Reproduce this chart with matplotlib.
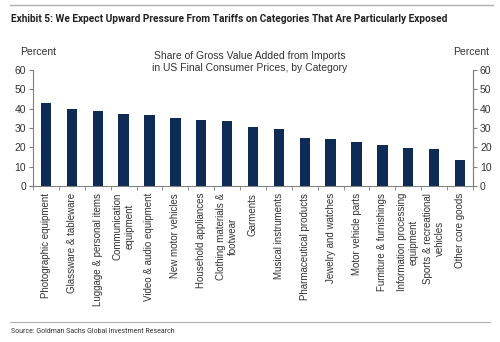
import numpy as np
import matplotlib
matplotlib.use("Agg")
import matplotlib.pyplot as plt
from matplotlib.lines import Line2D

categories = [
    "Photographic equipment",
    "Glassware & tableware",
    "Luggage & personal items",
    "Communication\nequipment",
    "Video & audio equipment",
    "New motor vehicles",
    "Household appliances",
    "Clothing materials &\nfootwear",
    "Garments",
    "Musical instruments",
    "Pharmaceutical products",
    "Jewelry and watches",
    "Motor vehicle parts",
    "Furniture & furnishings",
    "Information processing\nequipment",
    "Sports & recreational\nvehicles",
    "Other core goods",
]
import_share = [42.8, 39.7, 39.0, 37.1, 36.7, 35.3, 34.0, 33.5, 30.6,
                29.3, 24.8, 24.1, 22.9, 21.4, 19.8, 19.0, 13.3]
y_ticks = [0, 10, 20, 30, 40, 50, 60]

title = "Exhibit 5: We Expect Upward Pressure From Tariffs on Categories That Are Particularly Exposed"
chart_title = "Share of Gross Value Added from Imports\nin US Final Consumer Prices, by Category"
source = "Source: Goldman Sachs Global Investment Research"

bar_color = "#0d2b55"
text_color = "#333333"
axis_color = "#808080"
plt.rcParams["font.family"] = ["Liberation Sans", "DejaVu Sans"]
narrow = ["Roboto", "DejaVu Sans"]

fig = plt.figure(figsize=(5.0, 3.42), dpi=100)
ax = fig.add_axes([0.066, 0.456, 0.88, 0.339])

x = np.arange(len(categories))
ax.bar(x, import_share, width=0.4, color=bar_color, zorder=2)

ax.set_xlim(-0.5, len(categories) - 0.5)
ax.set_ylim(0, 60)
ax.set_yticks(y_ticks)
ax.set_xticks(x)
ax.set_xticklabels(categories, rotation=90, fontsize=7, color=text_color,
                   ha="center", va="top", multialignment="center")
ax.set_xticks(np.arange(-0.5, len(categories)), minor=True)
ax.tick_params(axis="x", which="major", length=0, pad=5)
ax.tick_params(axis="x", which="minor", length=3, color=axis_color, direction="out")
ax.tick_params(axis="y", length=3, color=axis_color, labelsize=7.5,
               labelcolor=text_color, pad=2)

ax.spines["top"].set_visible(False)
for side in ["left", "right", "bottom"]:
    ax.spines[side].set_color(axis_color)
    ax.spines[side].set_linewidth(0.8)

# mirrored axis on the right
ax2 = ax.twinx()
ax2.set_ylim(ax.get_ylim())
ax2.set_yticks(y_ticks)
ax2.tick_params(axis="y", length=3, color=axis_color, labelsize=7.5,
                labelcolor=text_color, pad=2)
for side in ["top", "left", "bottom"]:
    ax2.spines[side].set_visible(False)
ax2.spines["right"].set_color(axis_color)
ax2.spines["right"].set_linewidth(0.8)

fig.text(0.04, 0.848, "Percent", fontsize=7.5, color=text_color, va="center")
fig.text(0.906, 0.848, "Percent", fontsize=7.5, color=text_color, va="center")
fig.text(0.50, 0.818, chart_title, fontsize=7.5, color=text_color,
         ha="center", va="center", linespacing=1.2)

t = fig.text(0.022, 0.943, title, family=narrow, fontsize=9, fontweight="bold",
             color="#222222", va="center")
s = fig.text(0.022, 0.030, source, family=narrow, fontsize=6, color=text_color,
             va="center")

# fit header and footer to their widths
fig.canvas.draw()
r = fig.canvas.get_renderer()
for txt, target in [(t, 433), (s, 166)]:
    w = txt.get_window_extent(r).width
    if w > target:
        txt.set_fontsize(txt.get_fontsize() * target / w)

fig.add_artist(Line2D([0.02, 0.985], [0.985, 0.985], color="#b0b0b0", lw=1.0,
                      transform=fig.transFigure))
fig.add_artist(Line2D([0.02, 0.98], [0.058, 0.058], color="#b0b0b0", lw=0.8,
                      transform=fig.transFigure))

fig.savefig("out.png", dpi=100, facecolor="white")
